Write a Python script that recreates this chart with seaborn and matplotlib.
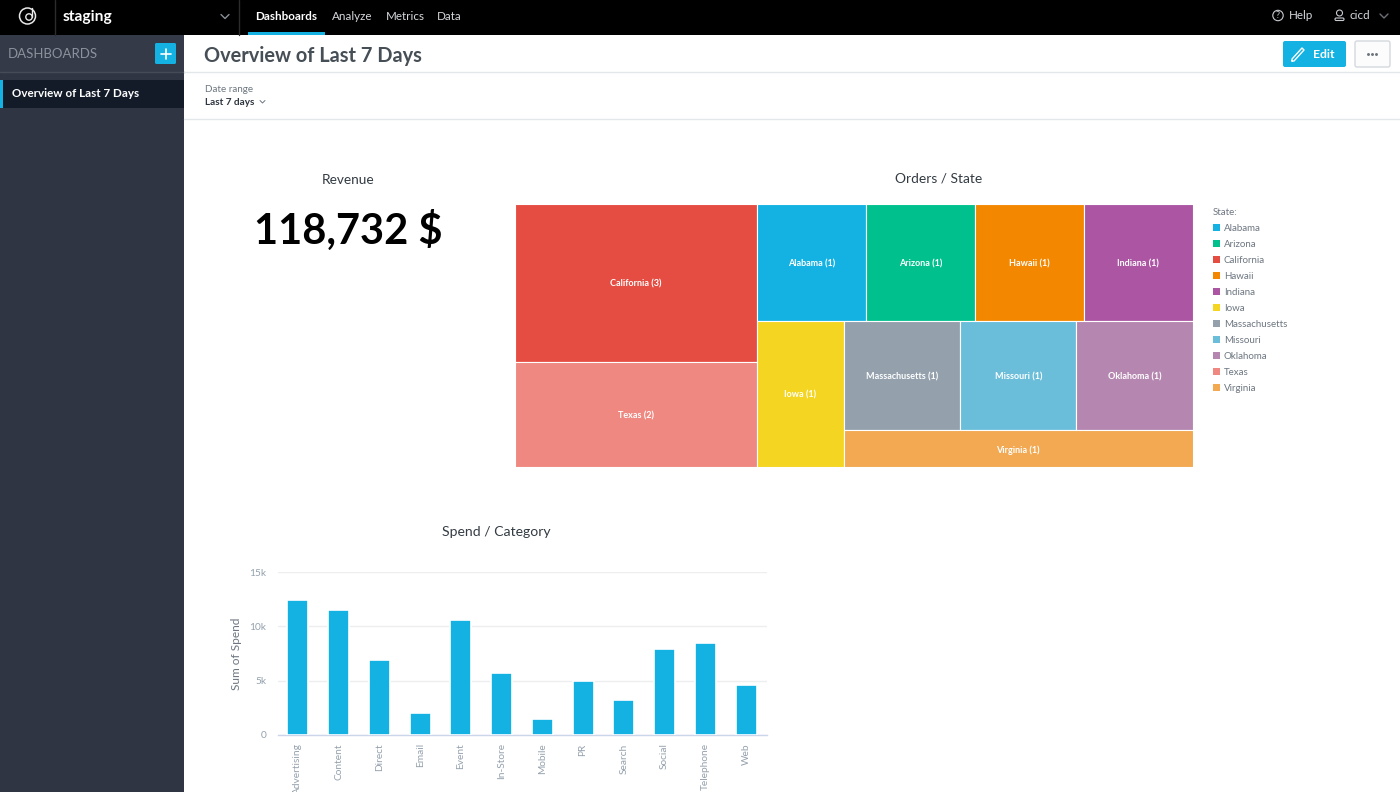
import matplotlib.pyplot as plt
import pandas as pd
import seaborn as sns
from matplotlib.patches import Circle, FancyBboxPatch, Patch, Rectangle

categories = ["Advertising", "Content", "Direct", "Email", "Event", "In-Store",
              "Mobile", "PR", "Search", "Social", "Telephone", "Web"]
spend = [12400, 11500, 6900, 2050, 10550, 5700, 1500, 4950, 3250, 7900, 8450, 4600]

states = ["Alabama", "Arizona", "California", "Hawaii", "Indiana", "Iowa",
          "Massachusetts", "Missouri", "Oklahoma", "Texas", "Virginia"]
orders = [1, 1, 3, 1, 1, 1, 1, 1, 1, 2, 1]
state_colors = ["#14b2e2", "#00c18d", "#e54d42", "#f38700", "#ab55a3", "#f4d521",
                "#94a1ad", "#6bbeda", "#b587b0", "#ee8880", "#f2a952"]

nav_items = ["Dashboards", "Analyze", "Metrics", "Data"]
nav_x = [255, 332, 385.5, 437]

BLUE = "#14b2e2"
TEXT = "#464e56"
GREY = "#94a1ad"

sns.set_theme(style="white")
plt.rcParams["font.family"] = ["Lato", "DejaVu Sans"]

fig = plt.figure(figsize=(14, 7.92), dpi=100)


def px_axes(left, top, right, bottom):
    return fig.add_axes([left / 1400, 1 - bottom / 792, (right - left) / 1400, (bottom - top) / 792])


# page chrome, in pixels
bg = px_axes(0, 0, 1400, 792)
bg.set(xlim=(0, 1400), ylim=(792, 0))
bg.axis("off")
bg.add_patch(Rectangle((0, 0), 1400, 35, fc="black", lw=0))
bg.add_patch(Rectangle((0, 35), 184, 757, fc="#2f3542", lw=0))
bg.add_patch(Rectangle((0, 35), 184, 37, fc="#343a47", lw=0))
bg.plot([0, 184], [72, 72], color="#454b57", lw=1)
bg.add_patch(Rectangle((0, 80), 184, 28, fc="#131b29", lw=0))
bg.add_patch(Rectangle((0, 80), 3, 28, fc=BLUE, lw=0))
bg.plot([54.5, 54.5], [0, 35], color="#2c2c2c", lw=1)
bg.plot([238.5, 238.5], [0, 35], color="#2c2c2c", lw=1)
bg.add_patch(Rectangle((248, 32), 77, 3, fc=BLUE, lw=0))
bg.plot([184, 1400], [72, 72], color="#e4e7ea", lw=1)
bg.plot([184, 1400], [119, 119], color="#e4e7ea", lw=1)

# logo
bg.add_patch(Circle((27.5, 16), 8, fill=False, ec="#e8e8e8", lw=1.1))
bg.add_patch(Circle((29, 17), 3.2, fill=False, ec="#e8e8e8", lw=1))
bg.plot([32, 32], [8, 17], color="#e8e8e8", lw=1)

bg.text(63, 17, "staging", color="white", fontsize=11.2, fontweight="bold", va="center")
bg.plot([221, 225, 229], [14.5, 18.5, 14.5], color="#8a8f96", lw=1)
for name, x in zip(nav_items, nav_x):
    active = name == "Dashboards"
    bg.text(x, 16.5, name, color="white" if active else "#d5d8dc", fontsize=8.4,
            fontweight="bold" if active else "normal", va="center")

# help / user
bg.add_patch(Circle((1278, 15.5), 5.2, fill=False, ec="#c8cbd0", lw=0.8))
bg.text(1278, 15.5, "?", color="#c8cbd0", fontsize=6.5, ha="center", va="center")
bg.text(1289, 15.5, "Help", color="#d5d8dc", fontsize=8.4, va="center")
bg.add_patch(Circle((1339.5, 13), 3, fill=False, ec="#c8cbd0", lw=0.8))
bg.add_patch(FancyBboxPatch((1335, 18), 9, 2.5, boxstyle="round,pad=0,rounding_size=1.2",
                            fill=False, ec="#c8cbd0", lw=0.8))
bg.text(1350, 15.5, "cicd", color="#d5d8dc", fontsize=8.4, va="center")
bg.plot([1380, 1384, 1388], [14, 18, 14], color="#6c7076", lw=1)

# sidebar
bg.text(8, 53.5, "DASHBOARDS", color="#8b929d", fontsize=9.5, va="center")
bg.add_patch(FancyBboxPatch((155, 43), 21, 21, boxstyle="round,pad=0,rounding_size=1.5", fc=BLUE, lw=0))
bg.plot([165.5, 165.5], [49, 59], color="white", lw=1.2)
bg.plot([160.5, 170.5], [54, 54], color="white", lw=1.2)
bg.text(12, 93.5, "Overview of Last 7 Days", color="white", fontsize=8.4, fontweight="bold", va="center")

# header
bg.text(204, 55.5, "Overview of Last 7 Days", color=TEXT, fontsize=14.4, fontweight="bold", va="center")
bg.text(205, 89.5, "Date range", color="#6d7680", fontsize=7.1, va="center")
bg.text(205, 102.5, "Last 7 days", color="#2f3640", fontsize=7.2, fontweight="bold", va="center")
bg.plot([260, 262.5, 265], [100.5, 103, 100.5], color="#6d7680", lw=0.7)
bg.add_patch(FancyBboxPatch((1283, 41), 63, 26, boxstyle="round,pad=0,rounding_size=2", fc=BLUE, lw=0))
bg.plot([1292, 1294, 1304, 1302, 1292, 1292], [61, 61, 50, 48, 59, 61], color="white", lw=1)
bg.text(1313, 54.5, "Edit", color="white", fontsize=8.8, fontweight="bold", va="center")
bg.add_patch(FancyBboxPatch((1355, 41), 35, 26, boxstyle="round,pad=0,rounding_size=2",
                            fc="#fcfcfc", ec="#d5d9dd", lw=1))
bg.plot([1368, 1372, 1376], [53.5, 53.5, 53.5], ls="none", marker="o", ms=1.1, color="#6d7680")

# chart titles and the headline number
bg.text(348, 179.5, "Revenue", color="#333b43", fontsize=9.8, ha="center", va="center")
bg.text(348, 230.5, "118,732 $", color="black", fontsize=30, fontweight="bold", ha="center", va="center")
bg.text(939, 178.5, "Orders / State", color="#333b43", fontsize=9.9, ha="center", va="center")
bg.text(496, 532, "Spend / Category", color="#333b43", fontsize=10.1, ha="center", va="center")

# treemap: each step splits off a group along one side, sized by its orders
value = dict(zip(states, orders))
color = dict(zip(states, state_colors))
tree = ("h", [("v", ["California", "Texas"]),
              ("v", [("h", ["Alabama", "Arizona", "Hawaii", "Indiana"]),
                     ("h", ["Iowa", ("v", [("h", ["Massachusetts", "Missouri", "Oklahoma"]), "Virginia"])])])])


def total(node):
    return value[node] if isinstance(node, str) else sum(total(n) for n in node[1])


def draw_tree(ax, node, x, y, w, h):
    if isinstance(node, str):
        ax.add_patch(Rectangle((x, y), w, h, fc=color[node], ec="white", lw=0.8))
        ax.annotate(f"{node} ({value[node]})", (x + w / 2, y + h / 2), xytext=(0, -1.1),
                    textcoords="offset points", color="white", fontsize=6.5,
                    fontweight="bold", ha="center", va="center")
        return
    split, children = node
    whole = total(node)
    for child in children:
        share = total(child) / whole
        if split == "h":
            draw_tree(ax, child, x, y, w * share, h)
            x += w * share
        else:
            draw_tree(ax, child, x, y, w, h * share)
            y += h * share


tm = px_axes(515, 203.5, 1192.5, 467)
tm.set(xlim=(0, 1), ylim=(1, 0))
tm.axis("off")
draw_tree(tm, tree, 0, 0, 1, 1)

handles = [Patch(fc=c, ec="none", label=s) for s, c in zip(states, state_colors)]
leg = fig.legend(handles=handles, title="State:", loc="upper left", bbox_to_anchor=(1213 / 1400, 1 - 208 / 792),
                 frameon=False, fontsize=7, title_fontsize=7, labelcolor="#6d7680", borderpad=0, borderaxespad=0,
                 handlelength=0.72, handleheight=0.72, handletextpad=0.41, labelspacing=0.72, alignment="left")
leg.get_title().set_color("#6d7680")

# bar chart
spend_df = pd.DataFrame({"category": categories, "spend": spend})
ax = px_axes(277.5, 572, 766.5, 735)
ax.set_facecolor("none")
sns.barplot(data=spend_df, x="category", y="spend", color=BLUE, saturation=1, width=0.52,
            edgecolor="white", linewidth=1.2, zorder=3, ax=ax)
ax.set_xlim(-0.5, 11.5)
ax.set_ylim(0, 15000)
ax.set_yticks([0, 5000, 10000, 15000], ["0", "5k", "10k", "15k"])
ax.yaxis.grid(True, color="#eceef0", lw=1)
ax.set_axisbelow(True)
ax.spines[["top", "right", "left"]].set_visible(False)
ax.spines["bottom"].set_color("#ccd6eb")
ax.spines["bottom"].set_linewidth(1)
ax.set_xlabel("")
ax.set_ylabel("Sum of Spend", color="#6d7680", fontsize=8.6, labelpad=5)
ax.tick_params(axis="x", length=0, labelsize=7.3, labelcolor="#94a1ad", labelrotation=90, pad=6)
ax.tick_params(axis="y", length=0, labelsize=7.3, labelcolor="#94a1ad", pad=8)

fig.savefig("out.png", dpi=100)
